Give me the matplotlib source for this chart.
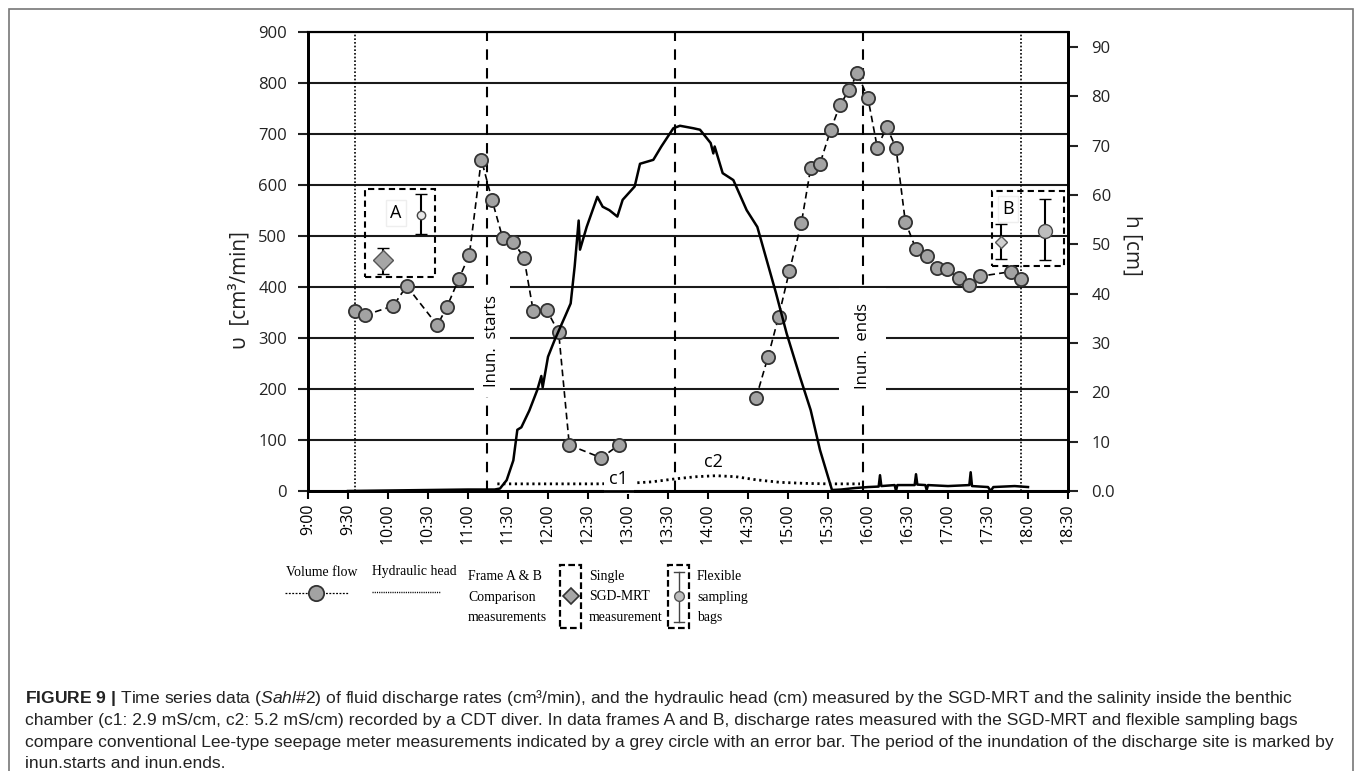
import matplotlib
matplotlib.use("Agg")
import matplotlib.pyplot as plt
from matplotlib.patches import Rectangle
from matplotlib.lines import Line2D
from matplotlib.ticker import FixedLocator, FixedFormatter

W, H = 1355, 771

def hm(s):
    h, m = s.split(":")
    return int(h) + int(m) / 60.0

# ---------------- data ----------------
flow_am_times = ["9:35", "9:43", "10:04", "10:14", "10:37", "10:44", "10:53", "11:01",
                 "11:10", "11:18", "11:26", "11:34", "11:42", "11:49", "11:59", "12:08",
                 "12:16", "12:40", "12:53"]
flow_am_values = [353, 345, 363, 402, 325, 360, 415, 463,
                  650, 571, 496, 489, 457, 352, 355, 311,
                  90, 65, 90]
flow_pm_times = ["14:36", "14:45", "14:53", "15:01", "15:10", "15:17", "15:24", "15:32",
                 "15:39", "15:46", "15:52", "16:00", "16:07", "16:14", "16:21", "16:28",
                 "16:36", "16:44", "16:52", "16:59", "17:08", "17:16", "17:24", "17:47", "17:55"]
flow_pm_values = [182, 263, 342, 431, 525, 633, 642, 708,
                  757, 787, 819, 770, 673, 714, 673, 528,
                  474, 461, 438, 435, 417, 403, 421, 430, 416]

head_times = ["9:30", "10:00", "10:30", "11:00", "11:20", "11:24", "11:29", "11:34", "11:37",
              "11:40", "11:46", "11:52", "11:55", "11:56", "12:00", "12:05", "12:13", "12:17",
              "12:20", "12:23", "12:24", "12:29", "12:37", "12:41", "12:46", "12:52", "12:56",
              "13:05", "13:09", "13:19", "13:25", "13:34", "13:39", "13:49", "13:54", "14:02",
              "14:04", "14:05", "14:11", "14:19", "14:29", "14:37", "14:44", "14:51", "14:59",
              "15:09", "15:17", "15:24", "15:33", "15:40", "15:50", "16:00", "16:08", "16:09",
              "16:10", "16:20", "16:21", "16:22", "16:35", "16:36", "16:37", "16:43", "16:44",
              "16:45", "17:00", "17:16", "17:17", "17:18", "17:30", "17:32", "17:34", "17:50", "18:00"]
head_cm = [0.0, 0.1, 0.2, 0.3, 0.3, 0.5, 2.2, 6.2, 12.4,
           12.9, 16.3, 20.5, 23.3, 21.0, 27.2, 30.6, 35.5, 38.0,
           45.5, 54.8, 48.9, 53.5, 59.6, 57.6, 56.9, 55.6, 59.0,
           61.7, 66.3, 67.1, 69.8, 73.5, 74.0, 73.5, 73.2, 70.5,
           68.4, 69.8, 64.4, 63.0, 56.9, 53.5, 46.8, 40.1, 31.9,
           23.1, 16.4, 8.3, 0.2, 0.3, 0.6, 0.8, 0.9, 3.2,
           1.0, 1.2, 0.0, 1.2, 1.2, 3.4, 1.3, 1.2, 0.2,
           1.2, 1.0, 1.2, 3.8, 1.0, 0.8, 0.0, 0.8, 1.0, 0.8]

salinity_times = ["11:22", "12:00", "12:36", "13:00", "13:18", "13:36", "13:51", "14:06",
                  "14:21", "14:36", "14:54", "15:12", "15:30", "15:54"]
salinity_level = [14, 14, 14, 15, 18, 24, 28, 30, 28, 22, 17, 15, 14, 14]

marker_lines_dotted = ["9:35", "17:55"]
marker_lines_dashed = ["11:14", "13:35", "15:56"]

# frame A / B comparison measurements
frameA_box = ["9:43", "10:35", 420, 592]
frameB_box = ["17:33", "18:27", 442, 589]
sgd_times = ["9:56", "17:40"]
sgd_values = [452, 489]
sgd_low = [425, 454]
sgd_high = [477, 523]
bag_times = ["10:25", "18:13"]
bag_values = [542, 510]
bag_low = [504, 452]
bag_high = [582, 573]

x_tick_labels = ["9:00", "9:30", "10:00", "10:30", "11:00", "11:30", "12:00", "12:30",
                 "13:00", "13:30", "14:00", "14:30", "15:00", "15:30", "16:00", "16:30",
                 "17:00", "17:30", "18:00", "18:30"]
left_ticks = [0, 100, 200, 300, 400, 500, 600, 700, 800, 900]
right_ticks = [0, 10, 20, 30, 40, 50, 60, 70, 80, 90]
right_tick_labels = ["0.0", "10", "20", "30", "40", "50", "60", "70", "80", "90"]

# ---------------- figure ----------------
plt.rcParams["font.family"] = ["Open Sans", "DejaVu Sans"]
plt.rcParams["mathtext.fontset"] = "custom"
plt.rcParams["mathtext.rm"] = "Liberation Sans"
plt.rcParams["mathtext.bf"] = "Liberation Sans:bold"
plt.rcParams["mathtext.it"] = "Liberation Sans:italic"

fig = plt.figure(figsize=(W / 100, H / 100), dpi=100)

def fx(x):
    return x / W

def fy(y):
    return 1 - y / H

ax = fig.add_axes([fx(308), fy(491), (1068 - 308) / W, (491 - 32) / H])
ax.set_xlim(9, 18.5)
ax.set_ylim(0, 900)

# grid
ax.yaxis.set_major_locator(FixedLocator(left_ticks))
ax.grid(axis="y", color="#1a1a1a", lw=1.5, zorder=0)
ax.set_axisbelow(True)

xt = [hm(s) for s in x_tick_labels]
ax.set_xticks(xt)
ax.set_xticklabels(x_tick_labels, rotation=90, fontsize=11.5)
ax.tick_params(axis="x", direction="out", length=6, width=1.5, pad=3)
ax.tick_params(axis="y", direction="out", length=7, width=1.5, pad=8, labelsize=12, colors="#222")
for s in ["left", "bottom", "right"]:
    ax.spines[s].set_linewidth(2)
ax.spines["top"].set_linewidth(1.5)

# vertical marker lines
for s in marker_lines_dotted:
    ax.axvline(hm(s), color="black", lw=1.2, ls=(0, (1, 1.2)), zorder=1)
for s in marker_lines_dashed:
    ax.axvline(hm(s), color="black", lw=1.5, ls=(0, (5, 4)), zorder=1)

# inundation labels
box = dict(facecolor="white", edgecolor="none", pad=7)
ax.text(hm("11:18"), 294, "Inun.  starts", rotation=90, ha="center", va="center",
        fontsize=12, bbox=box, zorder=3)
ax.text(hm("15:56"), 284, "Inun.  ends", rotation=90, ha="center", va="center",
        fontsize=12, bbox=dict(facecolor="white", edgecolor="none", pad=11), zorder=3)

# salinity dotted curve
ax.plot([hm(s) for s in salinity_times], salinity_level, color="black", lw=2.0,
        ls=(0, (0.8, 1.3)), zorder=2)
ax.text(hm("12:53"), 23, "c1", ha="center", va="center", fontsize=13,
        bbox=dict(facecolor="white", edgecolor="none", pad=4), zorder=3)
ax.text(hm("14:04"), 57, "c2", ha="center", va="center", fontsize=13, zorder=3)

# volume flow
flow_style = dict(color="black", lw=1.2, ls=(0, (4, 2.5)), marker="o", ms=9.5,
                  mfc="#a3a3a3", mec="#333333", mew=1.3, zorder=4)
ax.plot([hm(s) for s in flow_am_times], flow_am_values, **flow_style)
ax.plot([hm(s) for s in flow_pm_times], flow_pm_values, **flow_style)

# frames
for bx in (frameA_box, frameB_box):
    t0, t1, v0, v1 = hm(bx[0]), hm(bx[1]), bx[2], bx[3]
    ax.add_patch(Rectangle((t0, v0), t1 - t0, v1 - v0, fill=False, ec="black", lw=1.5,
                           ls=(0, (3, 2)), zorder=3))
ax.text(hm("10:06"), 545, "A", ha="center", va="center", fontsize=13,
        bbox=dict(facecolor="white", edgecolor="#eeeeee", pad=3), zorder=3)
ax.text(hm("17:45"), 553, "B", ha="center", va="center", fontsize=13,
        bbox=dict(facecolor="white", edgecolor="#eeeeee", pad=3), zorder=3)

# SGD-MRT single (diamond) and bags (circle) with error bars
sgd_ms = [10, 6]
sgd_fc = ["#a6a6a6", "#d0d0d0"]
bag_ms = [6, 10]
bag_fc = ["#e6e6e6", "#bdbdbd"]
for i in range(2):
    ax.errorbar([hm(sgd_times[i])], [sgd_values[i]],
                yerr=[[sgd_values[i] - sgd_low[i]], [sgd_high[i] - sgd_values[i]]],
                fmt="D", ms=sgd_ms[i], mfc=sgd_fc[i], mec="#555555", mew=1.0,
                ecolor="black", elinewidth=1.5, capsize=4, capthick=1.5, zorder=5)
    ax.errorbar([hm(bag_times[i])], [bag_values[i]],
                yerr=[[bag_values[i] - bag_low[i]], [bag_high[i] - bag_values[i]]],
                fmt="o", ms=bag_ms[i], mfc=bag_fc[i], mec="#444444", mew=1.0,
                ecolor="black", elinewidth=1.5, capsize=4, capthick=1.5, zorder=5)

# hydraulic head on right axis
ax2 = ax.twinx()
ax2.set_ylim(0, 93)
ax2.plot([hm(s) for s in head_times], head_cm, color="black", lw=1.8, zorder=3)
ax2.yaxis.set_major_locator(FixedLocator(right_ticks))
ax2.yaxis.set_major_formatter(FixedFormatter(right_tick_labels))
ax2.tick_params(axis="y", direction="out", length=7, width=1.5, pad=10, labelsize=12, colors="#222")
for s in ["left", "bottom", "right"]:
    ax2.spines[s].set_linewidth(2)
ax2.spines["top"].set_linewidth(1.5)

# axis labels
fig.text(fx(240), fy(290), "υ  [cm³/min]", rotation=90, ha="center", va="center",
         fontsize=15, color="#222")
fig.text(fx(1132), fy(245), "h [cm]", rotation=270, ha="center", va="center",
         fontsize=15, color="#222")

# ---------------- custom legend ----------------
serif = ["Liberation Serif", "DejaVu Serif"]
lfs = 9.9
def ltext(x, y, s):
    fig.text(fx(x), fy(y), s, ha="left", va="center", fontsize=lfs, family=serif,
             linespacing=1.78)

ltext(286, 572, "Volume flow")
fig.add_artist(Line2D([fx(285), fx(348)], [fy(593), fy(593)], transform=fig.transFigure,
                      color="black", lw=0.9, ls=(0, (1.5, 1.2))))
fig.add_artist(Line2D([fx(316)], [fy(593)], transform=fig.transFigure, marker="o",
                      ms=11, mfc="#a3a3a3", mec="#333333", mew=1.3))
ltext(372, 572, "Hydraulic head")
fig.add_artist(Line2D([fx(372), fx(440)], [fy(592), fy(592)], transform=fig.transFigure,
                      color="black", lw=1.0, ls=(0, (0.8, 0.8))))
ltext(468, 597, "Frame A & B\nComparison\nmeasurements")

for (x0, x1) in [(560, 581), (668, 689)]:
    fig.add_artist(Rectangle((fx(x0), fy(628)), fx(x1) - fx(x0), fy(565) - fy(628),
                             transform=fig.transFigure, fill=False, ec="black", lw=1.6,
                             ls=(0, (3, 1.5))))
fig.add_artist(Line2D([fx(570.5)], [fy(596)], transform=fig.transFigure, marker="D",
                      ms=8, mfc="#a6a6a6", mec="#333333", mew=1.2))
ltext(589, 597, "Single\nSGD-MRT\nmeasurement")
fig.add_artist(Line2D([fx(679), fx(679)], [fy(572), fy(622)], transform=fig.transFigure,
                      color="#444444", lw=1.0))
for yy in (572, 622):
    fig.add_artist(Line2D([fx(674), fx(684)], [fy(yy), fy(yy)], transform=fig.transFigure,
                          color="#444444", lw=1.0))
fig.add_artist(Line2D([fx(679)], [fy(596)], transform=fig.transFigure, marker="o",
                      ms=7, mfc="#bdbdbd", mec="#555555", mew=1.0))
ltext(697, 597, "Flexible\nsampling\nbags")

# ---------------- outer frame and caption ----------------
fig.add_artist(Rectangle((fx(9), -0.05), fx(1353) - fx(9), fy(9) + 0.05,
                         transform=fig.transFigure, fill=False, ec="#777777", lw=1.2))

cap_fs = 12.6
cap_family = ["Liberation Sans", "DejaVu Sans"]
cap_lines = [
    r"$\mathbf{FIGURE\ 9\ |}$ Time series data ($\mathit{Sahl\#2}$) of fluid discharge rates (cm³/min), and the hydraulic head (cm) measured by the SGD-MRT and the salinity inside the benthic",
    "chamber (c1: 2.9 mS/cm, c2: 5.2 mS/cm) recorded by a CDT diver. In data frames A and B, discharge rates measured with the SGD-MRT and flexible sampling bags",
    "compare conventional Lee-type seepage meter measurements indicated by a grey circle with an error bar. The period of the inundation of the discharge site is marked by",
    "inun.starts and inun.ends.",
]
cap_y = [698, 721, 743, 764]
for s, y in zip(cap_lines, cap_y):
    fig.text(fx(25), fy(y), s, ha="left", va="center", fontsize=cap_fs,
             family=cap_family, color="#222")

fig.savefig("out.png", dpi=100)
